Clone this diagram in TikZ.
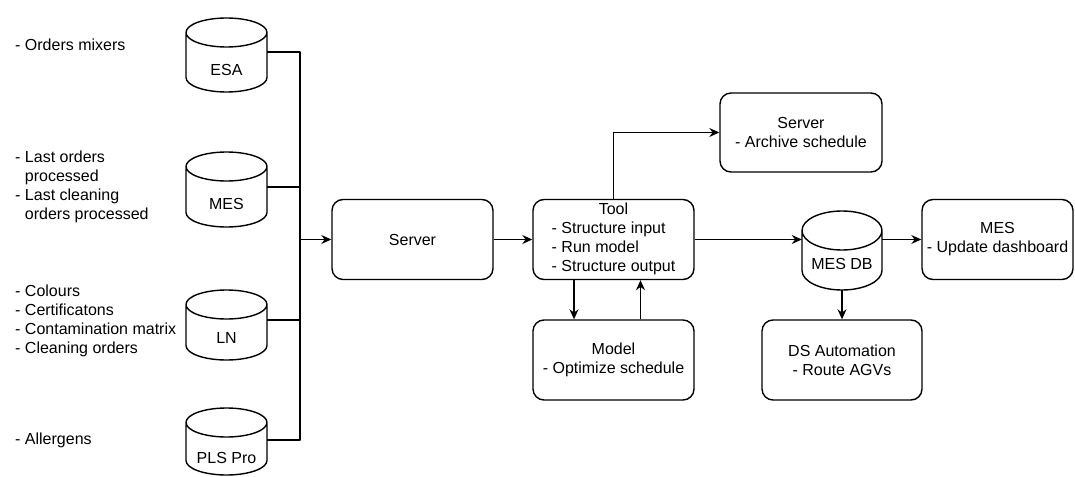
\documentclass[tikz,border=0pt]{standalone}
\usepackage{fontspec}
\setmainfont{Liberation Sans}
\usetikzlibrary{arrows.meta,calc}

% cylinder (database) outline with an invisible named node covering it
% #1 name, #2 centre x, #3 top y, #4 bottom y, #5 half width, #6 cap radius, #7 label, #8 label y
\newcommand\dbcyl[8]{%
  \draw[ln] ({#2-#5},{-#3-#6}) -- ({#2-#5},{-#4+#6})
    arc[start angle=180,end angle=360,x radius=#5pt,y radius=#6pt]
    -- ({#2+#5},{-#3-#6})
    arc[start angle=0,end angle=180,x radius=#5pt,y radius=#6pt]
    arc[start angle=180,end angle=360,x radius=#5pt,y radius=#6pt];
  \node[inner sep=0pt,minimum width={2*#5pt},minimum height={(#4-#3)*1pt}]
    (#1) at (#2,{-(#3+#4)/2}) {};
  \node[inner sep=0pt] at (#2,-#8) {#7};
}

\begin{document}
\begin{tikzpicture}[x=1pt,y=1pt,
  font=\fontsize{16}{19}\selectfont,
  ln/.style={line width=1.4pt,line join=round},
  arr/.style={ln,-{Stealth[length=10pt,width=9pt]}},
  box/.style={ln,draw,rounded corners=11pt,minimum width=161pt,minimum height=80pt,
    align=center,inner sep=0pt},
  note/.style={anchor=west,align=left,inner sep=0pt}]
\useasboundingbox (0,0) rectangle (1075,-476);

% source databases
\dbcyl{esa}{226.5}{18}{92}{40.5}{14.5}{ESA}{70}
\dbcyl{mes}{226.5}{152}{227}{40.5}{14.5}{MES}{204}
\dbcyl{lnd}{226.5}{290}{360}{40.5}{14.5}{LN}{338}
\dbcyl{pls}{226.5}{408}{475}{40.5}{14.5}{PLS Pro}{458}

% data delivered by each source
\node[note] (tesa) at (15,-45) {- Orders mixers};
\node[note] (tmes) at (15,-186.5) {- Last orders\\\hphantom{- }processed\\- Last cleaning\\\hphantom{- }orders processed};
\node[note] (tln) at (15,-320.5) {- Colours\\- Certificatons\\- Contamination matrix\\- Cleaning orders};
\node[note] (tpls) at (15,-440) {- Allergens};

% processing chain
\node[box] (server) at (412.5,-239.5) {Server};
\node[box] (tool) at (613.5,-239.5)
  {\raisebox{-2pt}{\begin{tabular}{@{}l@{}}\multicolumn{1}{@{}c@{}}{Tool}\\- Structure input\\- Run model\\- Structure output\end{tabular}}};
\node[box,minimum width=162pt,minimum height=79pt] (archive) at (801,-132.5) {Server\\- Archive schedule};
\node[box] (model) at (613.5,-360) {Model\\- Optimize schedule};
\dbcyl{mesdb}{842}{211}{290}{40}{19.5}{MES DB}{264}
\node[box,minimum width=151pt] (dash) at (997.5,-239.5) {MES\\- Update dashboard};
\node[box,minimum width=160pt] (ds) at (842,-360) {DS Automation\\- Route AGVs};

% collector bus from the sources to the server
\coordinate (bx) at (300,0);
\draw[ln] ([yshift=3pt]esa.east) -- ([yshift=3pt]esa.east -| bx)
  -- ([yshift=1.5pt]pls.east -| bx) -- ([yshift=1.5pt]pls.east);
\draw[ln] ([yshift=2.5pt]mes.east) -- ([yshift=2.5pt]mes.east -| bx);
\draw[ln] ([yshift=5pt]lnd.east) -- ([yshift=5pt]lnd.east -| bx);
\draw[arr] (server.west -| bx) -- (server.west);

% flows
\draw[arr] (server.east) -- (tool.west);
\draw[arr] (tool.north) |- (archive.west);
\draw[arr] ([xshift=-39.5pt]tool.south) -- ([xshift=-39.5pt]model.north);
\draw[arr] ([xshift=27pt]model.north) -- ([xshift=27pt]tool.south);
\draw[arr] (tool.east) -- (tool.east -| mesdb.west);
\draw[arr] (dash.west -| mesdb.east) -- (dash.west);
\draw[arr] (mesdb.south) -- (mesdb.south |- ds.north);
\end{tikzpicture}
\end{document}
